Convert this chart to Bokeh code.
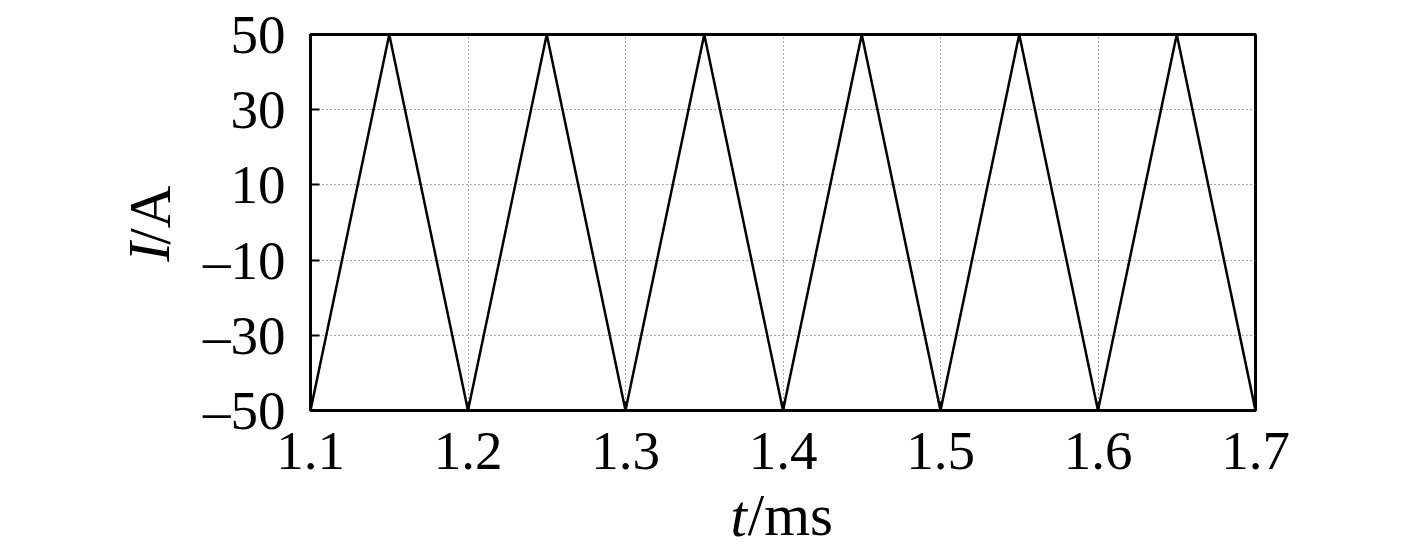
from bokeh.plotting import figure
from bokeh.models import Range1d, FixedTicker, LinearAxis
from bokeh.embed import file_html
from bokeh.resources import INLINE

# data
t_ms = [1.10, 1.15, 1.20, 1.25, 1.30, 1.35, 1.40, 1.45, 1.50, 1.55, 1.60, 1.65, 1.70]
current_A = [-50, 50, -50, 50, -50, 50, -50, 50, -50, 50, -50, 50, -50]
x_ticks = [1.1, 1.2, 1.3, 1.4, 1.5, 1.6, 1.7]
x_tick_labels = ["1.1", "1.2", "1.3", "1.4", "1.5", "1.6", "1.7"]
y_ticks = [-50, -30, -10, 10, 30, 50]
y_tick_labels = ["\u201350", "\u201330", "\u201310", "10", "30", "50"]

FONT = "Liberation Serif"
FS = "55px"
LFS = "59px"
NB = "\u00a0"

p = figure(width=1409, height=552, output_backend="svg", toolbar_location=None,
           x_range=Range1d(1.1, 1.7), y_range=Range1d(-50, 50),
           min_border_left=310, min_border_right=154, min_border_top=34, min_border_bottom=142)

p.line(t_ms, current_A, line_color="black", line_width=2.5)

p.outline_line_color = "black"
p.outline_line_width = 3

p.xaxis.ticker = FixedTicker(ticks=x_ticks)
p.yaxis.ticker = FixedTicker(ticks=y_ticks)
p.xaxis.major_label_overrides = {v: s for v, s in zip(x_ticks, x_tick_labels)}
p.yaxis.major_label_overrides = {v: s for v, s in zip(y_ticks, y_tick_labels)}

for ax in (p.xaxis, p.yaxis):
    ax.axis_line_color = "black"
    ax.axis_line_width = 3
    ax.major_tick_in = 9
    ax.major_tick_out = 0
    ax.major_tick_line_width = 2
    ax.minor_tick_line_color = None
    ax.major_label_text_font = FONT
    ax.major_label_text_font_size = FS
    ax.major_label_text_color = "black"
    ax.axis_label_text_font = FONT
    ax.axis_label_text_font_size = LFS
    ax.axis_label_text_font_style = "normal"
    ax.axis_label_text_color = "black"
p.xaxis.major_label_standoff = 22
p.yaxis.major_label_standoff = 25

# roman parts of the axis titles
p.xaxis.axis_label = NB + "/ms"
p.xaxis.axis_label_standoff = 10
p.yaxis.axis_label = NB + "/A"
p.yaxis.axis_label_standoff = 17

# italic parts of the axis titles on label-only axes
def label_axis(text, standoff):
    a = LinearAxis(ticker=FixedTicker(ticks=[]), axis_line_color=None,
                   major_tick_line_color=None, minor_tick_line_color=None,
                   axis_label=text, axis_label_standoff=standoff,
                   axis_label_text_font=FONT, axis_label_text_font_size=LFS,
                   axis_label_text_font_style="italic", axis_label_text_color="black")
    return a

p.add_layout(label_axis("t" + NB * 6, -68), "below")
p.add_layout(label_axis("I" + NB * 4, -68), "left")

for g in (p.xgrid, p.ygrid):
    g.grid_line_color = "#555555"
    g.grid_line_dash = "1 3"
    g.grid_line_width = 1

open("out.html", "w").write(file_html(p, INLINE))
